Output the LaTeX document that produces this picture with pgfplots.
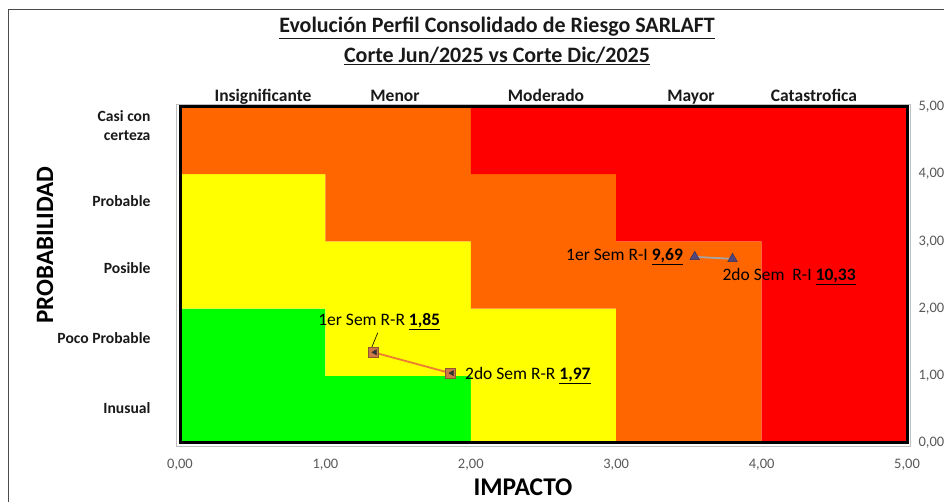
\documentclass[border=0pt]{standalone}
\usepackage{pgfplots}
\pgfplotsset{compat=1.18}
\usepackage{fontspec}
\setmainfont{Carlito}
\definecolor{cgreen}{RGB}{0,255,0}
\definecolor{cyellow}{RGB}{255,255,0}
\definecolor{corange}{RGB}{255,102,0}
\definecolor{cred}{RGB}{255,0,0}
\definecolor{rrline}{RGB}{237,125,49}
\definecolor{rrmark}{RGB}{205,120,70}
\definecolor{riline}{RGB}{165,165,165}
\definecolor{rimark}{RGB}{80,70,125}
\definecolor{ticktext}{RGB}{89,89,89}
\begin{document}
\begin{tikzpicture}[x=1pt,y=1pt]
\useasboundingbox (0,0) rectangle (944,502);
\draw[black!70, line width=1pt] (8.5,-20) -- (8.5,492.5) -- (960,492.5);
\node[font=\fontsize{22}{26}\selectfont\bfseries, text=black!90] at (497,474) {\underline{Evolución Perfil Consolidado de Riesgo SARLAFT}};
\node[font=\fontsize{22}{26}\selectfont\bfseries, text=black!90] at (497,446) {\underline{Corte Jun/2025 vs Corte Dic/2025}};
\begin{axis}[at={(180pt,59pt)}, anchor=south west, scale only axis,
  width=727pt, height=336pt,
  xmin=0, xmax=5, ymin=0, ymax=5,
  clip=false,
  axis line style={line width=3pt, black},
  xtick={0,1,2,3,4,5}, ytick={0,1,2,3,4,5},
  yticklabel pos=right,
  major tick length=0pt,
  tick label style={font=\fontsize{14.5}{16}\selectfont, text=ticktext},
  xticklabel style={yshift=-13pt},
  yticklabel style={xshift=8pt},
  /pgf/number format/fixed,
  /pgf/number format/fixed zerofill,
  /pgf/number format/precision=2,
  /pgf/number format/use comma,
  /pgf/number format/assume math mode=true,
  axis on top,
]
\addplot[fill=cgreen, draw=none] coordinates {(0,0) (2,0) (2,1) (1,1) (1,2) (0,2)} -- cycle;
\addplot[fill=cyellow, draw=none] coordinates {(0,2) (1,2) (1,1) (2,1) (2,0) (3,0) (3,2) (2,2) (2,3) (1,3) (1,4) (0,4)} -- cycle;
\addplot[fill=corange, draw=none] coordinates {(3,0) (4,0) (4,3) (3,3) (3,4) (2,4) (2,5) (0,5) (0,4) (1,4) (1,3) (2,3) (2,2) (3,2)} -- cycle;
\addplot[fill=cred, draw=none] coordinates {(4,0) (5,0) (5,5) (2,5) (2,4) (3,4) (3,3) (4,3)} -- cycle;
\draw[black!25, line width=0.8pt] ([xshift=-3.5pt,yshift=-3pt]rel axis cs:0,0) rectangle ([xshift=3.5pt,yshift=3pt]rel axis cs:1,1);
% R-R series
\addplot[rrline, line width=1.8pt, mark=square*, mark size=5pt, mark options={fill=rrmark, draw=rrmark!70!black, line width=0.5pt}] coordinates {(1.33,1.35) (1.86,1.04)};
\addplot[only marks, mark=triangle*, mark size=3pt, mark options={rotate=90, fill=black!80, draw=black!80}] coordinates {(1.34,1.35) (1.87,1.04)};
% R-I series
\addplot[riline, line width=1.8pt, mark=triangle*, mark size=5.5pt, mark options={fill=rimark, draw=rimark!70!black, line width=0.5pt}] coordinates {(3.54,2.77) (3.80,2.74)};
\draw[black, line width=0.6pt] (axis cs:1.36,1.64) -- (axis cs:1.32,1.43);
\node[font=\fontsize{17.5}{20}\selectfont] at (axis cs:1.37,1.80) {1er Sem R-R \underline{\textbf{1,85}}};
\node[font=\fontsize{17.5}{20}\selectfont, anchor=west, inner sep=0pt] at (axis cs:1.96,1.01) {2do Sem R-R \underline{\textbf{1,97}}};
\node[font=\fontsize{17.5}{20}\selectfont, anchor=east, inner sep=0pt] at (axis cs:3.46,2.77) {1er Sem R-I \underline{\textbf{9,69}}};
\node[font=\fontsize{17.5}{20}\selectfont, anchor=west, inner sep=0pt] at (axis cs:3.73,2.47) {2do Sem\ \ R-I \underline{\textbf{10,33}}};
\end{axis}
% top impact categories
\begin{scope}[every node/.style={font=\fontsize{17.5}{20}\selectfont\bfseries, text=black!90, anchor=base, inner sep=0pt}]
\node at (263,400) {Insignificante};
\node at (395,400) {Menor};
\node at (546,400) {Moderado};
\node at (691,400) {Mayor};
\node at (814,400) {Catastrofica};
\end{scope}
% left probability categories
\begin{scope}[every node/.style={font=\fontsize{15.6}{19}\selectfont\bfseries, text=black!90, anchor=east}]
\node[align=right] at (154,376) {Casi con\\certeza};
\node at (154,301) {Probable};
\node at (154,234) {Posible};
\node at (154,164) {Poco Probable};
\node at (154,94) {Inusual};
\end{scope}
\node[font=\fontsize{25.5}{28}\selectfont\bfseries] at (523,15) {IMPACTO};
\node[font=\fontsize{25}{28}\selectfont\bfseries, rotate=90] at (45,257) {PROBABILIDAD};
\end{tikzpicture}
\end{document}
